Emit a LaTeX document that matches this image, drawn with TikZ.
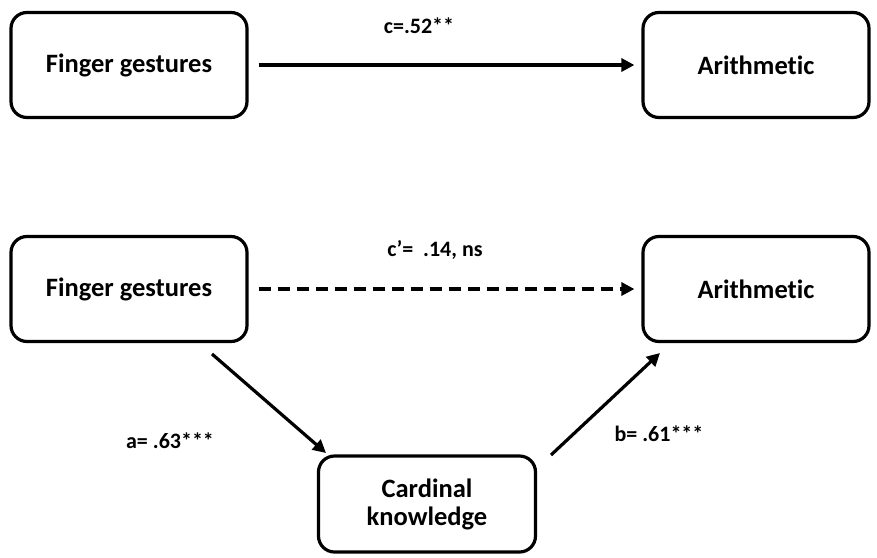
\documentclass[tikz,border=0pt]{standalone}
\usepackage{fontspec}
\setmainfont[Ligatures=NoCommon]{Carlito}
\usetikzlibrary{arrows.meta,calc}
\begin{document}
\begin{tikzpicture}[x=1pt,y=-1pt,
  box/.style={draw,line width=3.2pt,rounded corners=16pt,align=center,font=\fontsize{26.5}{31}\selectfont\bfseries,inner sep=0pt},
  conn/.style={line width=3.2pt,-{Triangle[length=13pt,width=13pt]}},
  lab/.style={font=\fontsize{22}{26}\selectfont\bfseries,inner sep=0pt}]
\useasboundingbox (0,0) rectangle (877,557);
\node[box,minimum width=236pt,minimum height=105pt] (fg1) at (129,65) {Finger gestures};
\node[box,minimum width=226pt,minimum height=105pt] (ar1) at (756,65) {Arithmetic};
\node[box,minimum width=236pt,minimum height=105pt] (fg2) at (129,289) {Finger gestures};
\node[box,minimum width=226pt,minimum height=105pt] (ar2) at (756,289) {Arithmetic};
\node[box,minimum width=217pt,minimum height=96pt] (ck) at (427,504) {Cardinal\\[-3pt]knowledge};
\draw[conn,shorten <=10pt,shorten >=7pt] (fg1.east) -- (ar1.west);
\draw[conn,dash pattern=on 12pt off 7pt,shorten <=10pt,shorten >=7pt] (fg2.east) -- (ar2.west);
\coordinate (a1) at (212,354);
\coordinate (a2) at (326,453);
\coordinate (b1) at (551,455);
\coordinate (b2) at (660,353);
\draw[conn] (a1) -- (a2);
\draw[conn] (b1) -- (b2);
\node[lab] (lc) at (419,26) {c=.52**};
\node[lab] (lcp) at (435,250) {c’=\ \ .14, ns};
\node[lab] (la) at (170,441) {a= .63***};
\node[lab] (lb) at (659,434) {b= .61***};
\end{tikzpicture}
\end{document}
